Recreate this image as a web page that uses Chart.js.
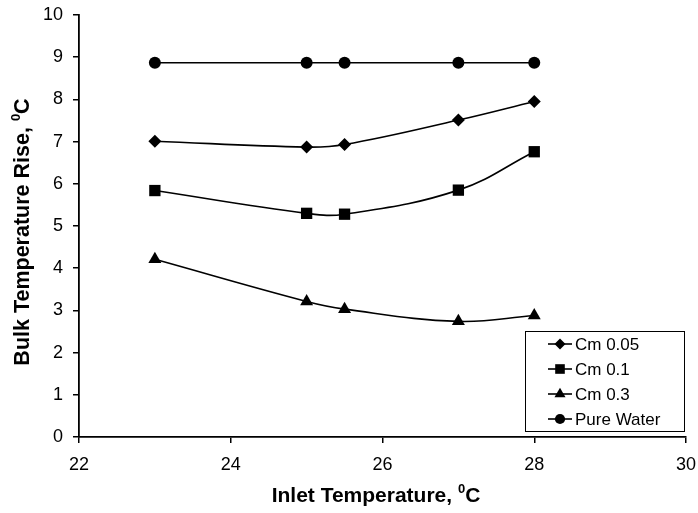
<!DOCTYPE html>
<html>
<head>
<meta charset="utf-8">
<script src="https://cdn.jsdelivr.net/npm/chart.js@4/dist/chart.umd.min.js"></script>
<style>
  html, body { margin: 0; padding: 0; background: #fff; }
  #wrap { width: 698px; height: 513px; position: relative; }
</style>
</head>
<body>
<div id="wrap"><canvas id="c" width="698" height="513"></canvas></div>
<script>
// ---- data ----
const inletTemps = [23, 25, 25.5, 27, 28];
const cm005 = [7.01, 6.87, 6.93, 7.51, 7.95];
const cm01 = [5.84, 5.30, 5.28, 5.85, 6.76];
const cm03 = [4.21, 3.21, 3.03, 2.74, 2.88];
const pureWater = [8.87, 8.87, 8.87, 8.87, 8.87];
const seriesNames = ['Cm 0.05', 'Cm 0.1', 'Cm 0.3', 'Pure Water'];
const xTicks = [22, 24, 26, 28, 30];
const yTicks = [0, 1, 2, 3, 4, 5, 6, 7, 8, 9, 10];
const xTitle = ['Inlet Temperature, ', '0', 'C'];
const yTitle = ['Bulk Temperature Rise, ', '0', 'C'];

const FONT = '"Liberation Sans", Arial, sans-serif';
const toXY = (ys) => inletTemps.map((x, i) => ({ x: x, y: ys[i] }));

const styles = [
  { pointStyle: 'rectRot', r: 6.5, tension: 0.4 },
  { pointStyle: 'rect', r: 8, tension: 0.4 },
  { pointStyle: 'triangle', r: 7.5, tension: 0.4 },
  { pointStyle: 'circle', r: 6, tension: 0 }
];
const seriesData = [cm005, cm01, cm03, pureWater];

const datasets = seriesData.map((d, i) => ({
  label: seriesNames[i],
  data: toXY(d),
  borderColor: '#000',
  backgroundColor: '#000',
  borderWidth: 1.6,
  pointStyle: styles[i].pointStyle,
  pointRadius: styles[i].r,
  pointBorderWidth: 0,
  pointBackgroundColor: '#000',
  tension: styles[i].tension,
  fill: false
}));

function drawMarker(ctx, style, x, y, r) {
  ctx.beginPath();
  if (style === 'circle') {
    ctx.arc(x, y, r, 0, Math.PI * 2);
  } else if (style === 'rect') {
    const s = r * Math.SQRT1_2;
    ctx.rect(x - s, y - s, 2 * s, 2 * s);
  } else if (style === 'rectRot') {
    ctx.moveTo(x, y - r); ctx.lineTo(x + r, y); ctx.lineTo(x, y + r); ctx.lineTo(x - r, y); ctx.closePath();
  } else if (style === 'triangle') {
    const h = r * Math.sqrt(3) / 2;
    ctx.moveTo(x, y - r); ctx.lineTo(x + h, y + r / 2); ctx.lineTo(x - h, y + r / 2); ctx.closePath();
  }
  ctx.fill();
}

function drawSupText(ctx, parts, size) {
  const supSize = Math.round(size * 0.62);
  ctx.font = 'bold ' + size + 'px ' + FONT;
  const w1 = ctx.measureText(parts[0]).width;
  const w3 = ctx.measureText(parts[2]).width;
  ctx.font = 'bold ' + supSize + 'px ' + FONT;
  const w2 = ctx.measureText(parts[1]).width;
  const total = w1 + w2 + w3;
  let x = -total / 2;
  ctx.textAlign = 'left';
  ctx.textBaseline = 'middle';
  ctx.font = 'bold ' + size + 'px ' + FONT;
  ctx.fillText(parts[0], x, 0);
  x += w1;
  ctx.font = 'bold ' + supSize + 'px ' + FONT;
  ctx.fillText(parts[1], x, -size * 0.32);
  x += w2;
  ctx.font = 'bold ' + size + 'px ' + FONT;
  ctx.fillText(parts[2], x, 0);
}

const decor = {
  id: 'decor',
  afterDraw(chart) {
    const ctx = chart.ctx;
    ctx.save();
    ctx.fillStyle = '#000';
    // axis titles
    ctx.save();
    ctx.translate(376, 496);
    drawSupText(ctx, xTitle, 21);
    ctx.restore();
    ctx.save();
    ctx.translate(23, 232);
    ctx.rotate(-Math.PI / 2);
    drawSupText(ctx, yTitle, 21.5);
    ctx.restore();

    // legend
    const bx = 525.5, by = 331.5, bw = 159, bh = 100;
    ctx.fillStyle = '#fff';
    ctx.fillRect(bx, by, bw, bh);
    ctx.strokeStyle = '#000';
    ctx.lineWidth = 1;
    ctx.strokeRect(bx, by, bw, bh);
    ctx.font = '17px ' + FONT;
    ctx.textAlign = 'left';
    ctx.textBaseline = 'middle';
    chart.data.datasets.forEach((ds, i) => {
      const y = 344 + i * 25;
      ctx.strokeStyle = '#000';
      ctx.lineWidth = 1.6;
      ctx.beginPath();
      ctx.moveTo(548, y); ctx.lineTo(572, y); ctx.stroke();
      ctx.fillStyle = '#000';
      drawMarker(ctx, ds.pointStyle, 560, y, ds.pointRadius * 0.85);
      ctx.fillText(ds.label, 575, y + 1);
    });
    ctx.restore();
  }
};

new Chart(document.getElementById('c'), {
  type: 'line',
  data: { datasets: datasets },
  options: {
    responsive: false,
    animation: false,
    devicePixelRatio: 1,
    layout: { padding: { top: 15, right: 12, left: 0, bottom: 0 } },
    plugins: { legend: { display: false }, tooltip: { enabled: false } },
    scales: {
      x: {
        type: 'linear',
        min: 22, max: 30,
        afterBuildTicks: (s) => { s.ticks = xTicks.map(v => ({ value: v })); },
        afterFit: (s) => { s.height = 76; s.paddingLeft = 0; s.paddingRight = 0; },
        grid: { drawOnChartArea: false, drawTicks: true, tickLength: 6, color: '#000', lineWidth: 1.5 },
        border: { display: true, color: '#000', width: 1.8 },
        ticks: { color: '#000', font: { family: FONT, size: 18 }, padding: 11, maxRotation: 0 }
      },
      y: {
        type: 'linear',
        min: 0, max: 10,
        afterBuildTicks: (s) => { s.ticks = yTicks.map(v => ({ value: v })); },
        afterFit: (s) => { s.width = 79; s.paddingTop = 0; s.paddingBottom = 0; },
        grid: { drawOnChartArea: false, drawTicks: true, tickLength: 6, color: '#000', lineWidth: 1.5 },
        border: { display: true, color: '#000', width: 1.8 },
        ticks: { color: '#000', font: { family: FONT, size: 18 }, padding: 10 }
      }
    }
  },
  plugins: [decor]
});
</script>
</body>
</html>
